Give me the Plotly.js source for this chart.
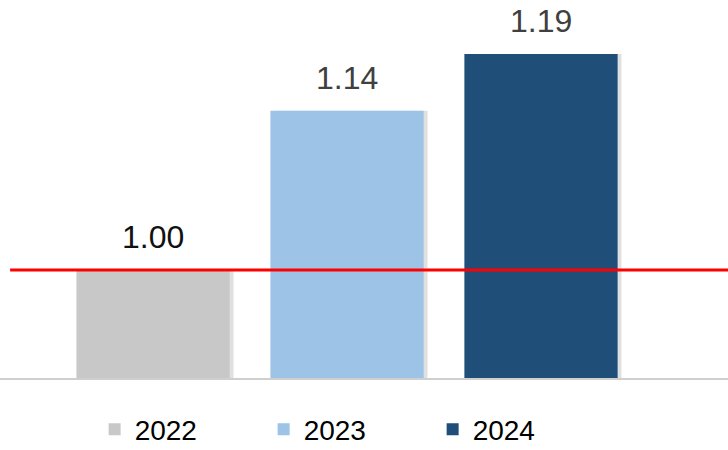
<!DOCTYPE html>
<html>
<head>
<meta charset="utf-8">
<script src="https://cdn.plot.ly/plotly-3.0.1.min.js"></script>
<style>html,body{margin:0;padding:0;background:#fff;}#chart{width:728px;height:450px;}</style>
</head>
<body>
<div id="chart"></div>
<script>
var years = ['2022', '2023', '2024'];
var values = [1.00, 1.14, 1.19];
var labels = ['1.00', '1.14', '1.19'];
var colors = ['#c8c8c8', '#9dc3e6', '#1f4e79'];
var labelColors = ['#111111', '#404040', '#404040'];
var referenceValue = 1.0;

var positions = years.map(function (_, i) { return i; });
var traces = [];
// soft shadows
years.forEach(function (y, i) {
  traces.push({
    type: 'bar', x: [positions[i] + 0.02], y: [values[i]], width: 0.79,
    marker: {color: 'rgba(0,0,0,0.12)'}, showlegend: false, hoverinfo: 'skip'
  });
});
years.forEach(function (y, i) {
  traces.push({
    type: 'bar', name: y, x: [positions[i]], y: [values[i]], width: 0.79,
    marker: {color: colors[i]}, showlegend: true
  });
});

var annotations = years.map(function (y, i) {
  return {
    x: positions[i], y: values[i], xref: 'x', yref: 'y', text: labels[i],
    showarrow: false, yanchor: 'bottom', yshift: 13,
    font: {family: 'Liberation Sans, Arial, sans-serif', size: 32, color: labelColors[i]}
  };
});

var layout = {
  width: 728, height: 450,
  margin: {l: 0, r: 0, t: 0, b: 72, autoexpand: false},
  paper_bgcolor: '#ffffff', plot_bgcolor: '#ffffff',
  barmode: 'overlay',
  xaxis: {range: [-0.789, 2.964], showticklabels: false, showgrid: false, zeroline: false,
          showline: true, linecolor: '#cfcfcf', linewidth: 2, ticks: ''},
  yaxis: {range: [0.905, 1.2375], showticklabels: false, showgrid: false, zeroline: false, showline: false},
  shapes: [{type: 'line', xref: 'x', yref: 'y', x0: -0.737, x1: 2.964, y0: referenceValue, y1: referenceValue,
            line: {color: '#ff0000', width: 3}}],
  annotations: annotations,
  showlegend: true,
  legend: {orientation: 'h', x: 0.13, xanchor: 'left', y: -0.07, yanchor: 'top',
           entrywidth: 124, entrywidthmode: 'pixels', traceorder: 'normal',
           font: {family: 'Liberation Sans, Arial, sans-serif', size: 28, color: '#000000'},
           bgcolor: 'rgba(0,0,0,0)'}
};

Plotly.newPlot('chart', traces, layout, {displayModeBar: false, staticPlot: true});
</script>
</body>
</html>
